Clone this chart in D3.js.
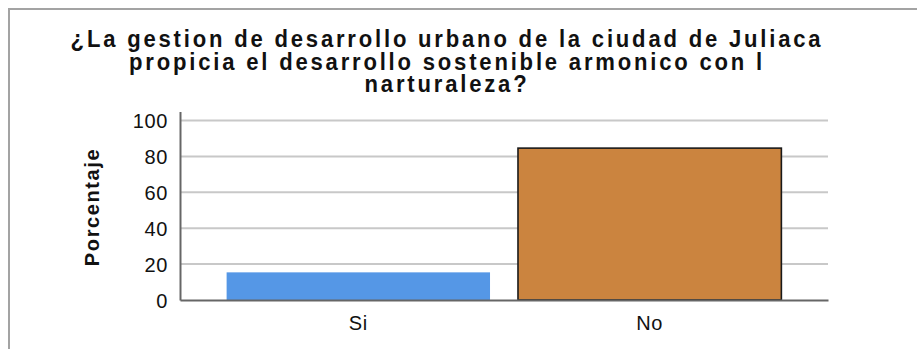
<!DOCTYPE html>
<html>
<head>
<meta charset="utf-8">
<script src="https://cdn.jsdelivr.net/npm/d3@7/dist/d3.min.js"></script>
<style>
  html, body { margin: 0; padding: 0; background: #ffffff; }
  svg { display: block; }
  text { font-family: "Liberation Sans", Arial, sans-serif; fill: #111; }
</style>
</head>
<body>
<svg id="chart" width="917" height="349"></svg>
<script>
// Survey answers and their share of respondents (%)
const categories = ["Si", "No"];
const percentages = [15.4, 84.6];
const barColors = ["#5597e6", "#cb843f"];
const barOutlined = [false, true];
const yTicks = [0, 20, 40, 60, 80, 100];
const titleLines = [
  "¿La gestion de desarrollo urbano de la ciudad de Juliaca",
  "propicia el desarrollo sostenible armonico con l",
  "narturaleza?"
];
const yAxisTitle = "Porcentaje";

const svg = d3.select("#chart");

// Outer frame of the chart panel
svg.append("rect")
  .attr("x", 9).attr("y", 9)
  .attr("width", 1000).attr("height", 1000)
  .attr("fill", "none")
  .attr("stroke", "#a3a3a3")
  .attr("stroke-width", 2);

const plot = { left: 180, right: 828, top: 111.5, bottom: 300 };

const x = d3.scaleBand()
  .domain(categories)
  .range([plot.left, plot.right])
  .paddingInner(0.096)
  .paddingOuter(0.16);

const y = d3.scaleLinear()
  .domain([0, 105])
  .range([plot.bottom, plot.top]);

// Horizontal gridlines
svg.append("g")
  .selectAll("line")
  .data(yTicks.filter(d => d > 0))
  .join("line")
  .attr("x1", plot.left).attr("x2", plot.right)
  .attr("y1", d => y(d)).attr("y2", d => y(d))
  .attr("stroke", "#c8c8c8")
  .attr("stroke-width", 2);

// Bars
svg.append("g")
  .selectAll("rect")
  .data(categories)
  .join("rect")
  .attr("x", d => x(d))
  .attr("width", x.bandwidth())
  .attr("y", (d, i) => y(percentages[i]))
  .attr("height", (d, i) => y(0) - y(percentages[i]))
  .attr("fill", (d, i) => barColors[i])
  .attr("stroke", (d, i) => barOutlined[i] ? "#1a1a1a" : "none")
  .attr("stroke-width", 1.6);

// Y axis with tick labels
const yAxis = svg.append("g")
  .attr("transform", `translate(${plot.left},0)`)
  .call(d3.axisLeft(y).tickValues(yTicks).tickSize(0).tickPadding(12).tickFormat(d3.format("d")));
yAxis.select(".domain").attr("stroke", "#666").attr("stroke-width", 2);
yAxis.selectAll("text")
  .attr("font-size", 20)
  .attr("letter-spacing", 0.6)
  .attr("font-family", "Liberation Sans, Arial, sans-serif")
  .attr("fill", "#111")
  .attr("dy", "0.36em");

// X axis with category labels
const xAxis = svg.append("g")
  .attr("transform", `translate(0,${plot.bottom})`)
  .call(d3.axisBottom(x).tickSize(0).tickPadding(16));
xAxis.select(".domain").attr("stroke", "#666").attr("stroke-width", 2);
xAxis.selectAll("text")
  .attr("font-size", 20)
  .attr("letter-spacing", 0.6)
  .attr("font-family", "Liberation Sans, Arial, sans-serif")
  .attr("fill", "#111");

// Y axis title
svg.append("text")
  .attr("transform", "translate(99,207) rotate(-90)")
  .attr("text-anchor", "middle")
  .attr("font-size", 20)
  .attr("font-weight", "bold")
  .attr("letter-spacing", 1.6)
  .text(yAxisTitle);

// Chart title: slightly narrowed glyphs; spacing set so the first line spans the title width
const titleWidth = 750;
const narrow = 0.92;
const title = svg.append("g")
  .selectAll("text")
  .data(titleLines)
  .join("text")
  .attr("transform", (d, i) => `translate(447,${47 + i * 22.5}) scale(${narrow},1)`)
  .attr("text-anchor", "middle")
  .attr("font-size", 24)
  .attr("font-weight", "bold")
  .text(d => d);
const firstLen = title.node().getComputedTextLength();
const spacing = (titleWidth / narrow - firstLen) / (titleLines[0].length - 1);
title.attr("letter-spacing", spacing);
</script>
</body>
</html>
